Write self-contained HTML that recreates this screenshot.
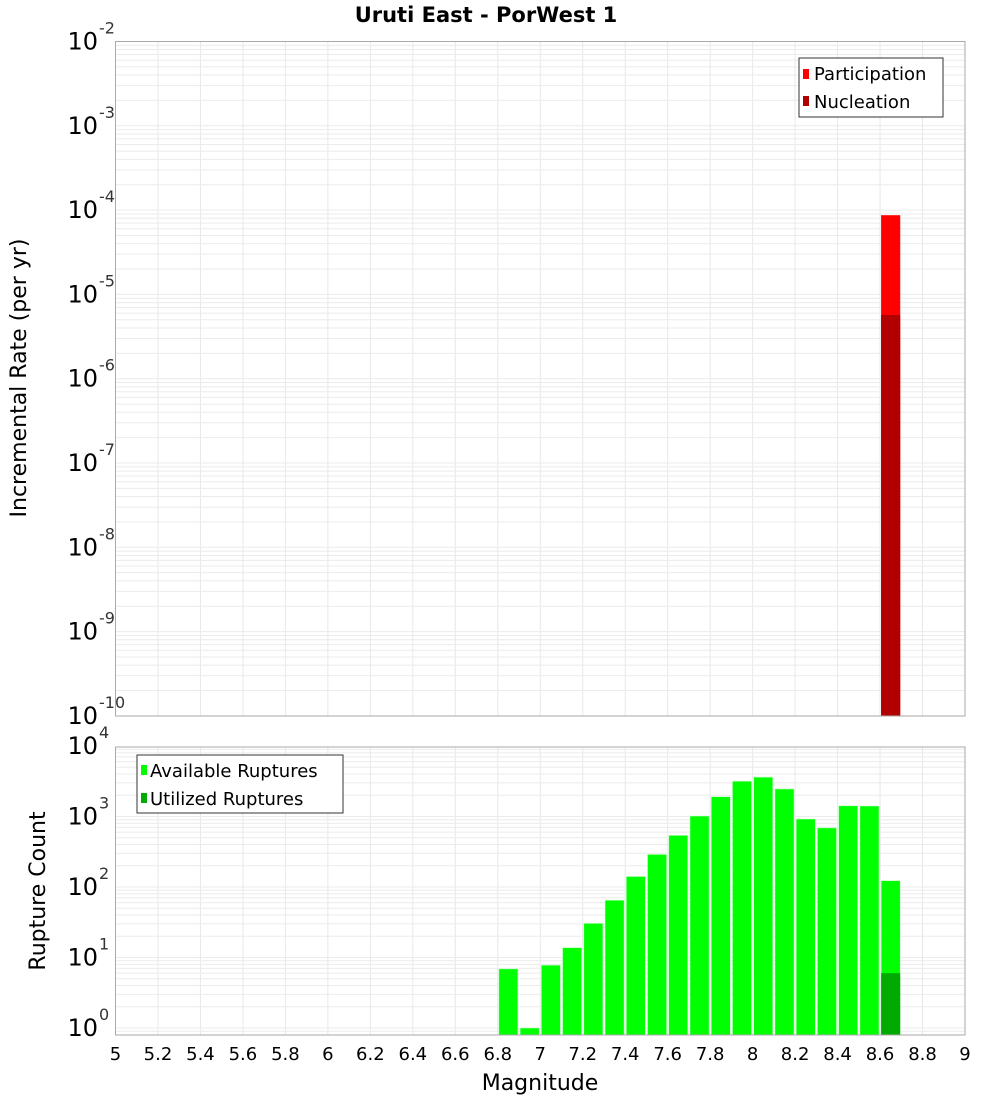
<!DOCTYPE html>
<html><head><meta charset="utf-8">
<style>
body{margin:0;background:#fff;}
svg{display:block;font-family:"DejaVu Sans","Liberation Sans",sans-serif;}
</style></head>
<body>
<svg id="chart" width="1000" height="1100" viewBox="0 0 1000 1100" xmlns="http://www.w3.org/2000/svg">
<rect width="1000" height="1100" fill="#fff"/>
<text x="486" y="22" text-anchor="middle" font-size="21" font-weight="bold">Uruti East - PorWest 1</text>
<g id="topPanel"></g>
<g id="botPanel"></g>
</svg>
<script>
// Data
const partMags = [8.65];
const partRates = [8.7e-5];
const nuclMags = [8.65];
const nuclRates = [5.7e-6];
const rupMags = [6.85,6.95,7.05,7.15,7.25,7.35,7.45,7.55,7.65,7.75,7.85,7.95,8.05,8.15,8.25,8.35,8.45,8.55,8.65];
const availCounts = [6.9,1,7.8,13.8,30.5,65,141,290,540,1016,1910,3170,3620,2460,922,690,1420,1410,123];
const usedMags = [8.65];
const usedCounts = [6.0];
const xTicks = [5,5.2,5.4,5.6,5.8,6,6.2,6.4,6.6,6.8,7,7.2,7.4,7.6,7.8,8,8.2,8.4,8.6,8.8,9];
const topDecades = [-2,-3,-4,-5,-6,-7,-8,-9,-10];
const botDecades = [4,3,2,1,0];

const NS = "http://www.w3.org/2000/svg";
const X0 = 115.5, X1 = 965;
function xs(m){ return X0 + (m-5)/4*(X1-X0); }
const TOP_Y0 = 41.5, TOP_Y1 = 716;
function ysTop(v){ return TOP_Y0 + (-2 - Math.log10(v))*84.3; }
const BOT_Y0 = 747, BOT_Y1 = 1035;
function ysBot(v){ return 1028 - Math.log10(v)*70.5; }

function mk(tag, attrs, parent){
  const e = document.createElementNS(NS, tag);
  for (const k in attrs) e.setAttribute(k, attrs[k]);
  parent.appendChild(e); return e;
}

function grid(g, y0, y1, decs, ys){
  xTicks.forEach(m=>{
    const l = mk('line',{x1:xs(m),x2:xs(m),y1:y0,y2:y1,stroke:'#e8e8e8','stroke-width':1},g);
    
    
  });
  decs.forEach(d=>{
    for(let k=1;k<10;k++){
      const y = ys(k*Math.pow(10,d));
      if (y < y0-0.5 || y > y1+0.5) continue;
      const l = mk('line',{x1:X0,x2:X1,y1:y,y2:y,stroke:'#ebebeb','stroke-width':1},g);
      
      
    }
  });
}

function yLabels(g, decs, ys){
  decs.forEach(d=>{
    const y = ys(Math.pow(10,d));
    const t = mk('text',{x:98,y:y+8,'text-anchor':'end','font-size':24,fill:'#000'},g);
    t.textContent='10';
    
    
    const e = mk('text',{x:99,y:y-8,'text-anchor':'start','font-size':16,fill:'#333'},g);
    e.textContent = String(d);
    
    
  });
}

// TOP PANEL
const topG = document.getElementById('topPanel');
grid(topG, TOP_Y0, TOP_Y1, [-3,-4,-5,-6,-7,-8,-9,-10], ysTop);
partMags.forEach((m,i)=>{
  const y = ysTop(partRates[i]);
  const r = mk('rect',{x:xs(m-0.045),y:y,width:xs(m+0.045)-xs(m-0.045),height:TOP_Y1-y,fill:'#ff0000'},topG);
  
  
});
nuclMags.forEach((m,i)=>{
  const y = ysTop(nuclRates[i]);
  const r = mk('rect',{x:xs(m-0.045),y:y,width:xs(m+0.045)-xs(m-0.045),height:TOP_Y1-y,fill:'#b20000'},topG);
  
  
});
const tf = mk('rect',{x:X0,y:TOP_Y0,width:X1-X0,height:TOP_Y1-TOP_Y0,fill:'none',stroke:'#aaa','stroke-width':1},topG);


yLabels(topG, topDecades, ysTop);
const yt1 = mk('text',{x:26,y:378,'text-anchor':'middle','font-size':22,transform:'rotate(-90 26 378)'},topG);
yt1.textContent='Incremental Rate (per yr)';


const lg1 = mk('g',{},topG);


mk('rect',{x:799,y:58,width:144,height:59,fill:'#fff',stroke:'#333','stroke-width':1},lg1);
mk('rect',{x:803,y:69,width:6,height:10,fill:'#ff0000'},lg1);
const lt1=mk('text',{x:814,y:80,'font-size':18},lg1); lt1.textContent='Participation';


mk('rect',{x:803,y:96,width:6,height:10,fill:'#b20000'},lg1);
const lt2=mk('text',{x:814,y:108,'font-size':18},lg1); lt2.textContent='Nucleation';



// BOTTOM PANEL
const botG = document.getElementById('botPanel');
grid(botG, BOT_Y0, BOT_Y1, [-1,0,1,2,3], ysBot);
rupMags.forEach((m,i)=>{
  const y = ysBot(availCounts[i]);
  const r = mk('rect',{x:xs(m-0.045),y:y,width:xs(m+0.045)-xs(m-0.045),height:BOT_Y1-y,fill:'#00ff00',stroke:'#c8ffc8','stroke-width':0.6},botG);
  
  
});
usedMags.forEach((m,i)=>{
  const y = ysBot(usedCounts[i]);
  const r = mk('rect',{x:xs(m-0.045),y:y,width:xs(m+0.045)-xs(m-0.045),height:BOT_Y1-y,fill:'#00aa00'},botG);
  
  
});
const bf = mk('rect',{x:X0,y:BOT_Y0,width:X1-X0,height:BOT_Y1-BOT_Y0,fill:'none',stroke:'#aaa','stroke-width':1},botG);


yLabels(botG, botDecades, ysBot);
const yt2 = mk('text',{x:45,y:891,'text-anchor':'middle','font-size':22,transform:'rotate(-90 45 891)'},botG);
yt2.textContent='Rupture Count';


xTicks.forEach(m=>{
  const t = mk('text',{x:xs(m),y:1060,'text-anchor':'middle','font-size':18},botG);
  t.textContent = String(m);
  
  
});
const xt = mk('text',{x:540,y:1090,'text-anchor':'middle','font-size':22},botG);
xt.textContent='Magnitude';


const lg2 = mk('g',{},botG);


mk('rect',{x:137,y:755,width:206,height:58,fill:'#fff',stroke:'#333','stroke-width':1},lg2);
mk('rect',{x:141,y:765,width:6,height:10,fill:'#00ff00'},lg2);
const lt3=mk('text',{x:150,y:777,'font-size':18},lg2); lt3.textContent='Available Ruptures';


mk('rect',{x:141,y:793,width:6,height:10,fill:'#00aa00'},lg2);
const lt4=mk('text',{x:150,y:805,'font-size':18},lg2); lt4.textContent='Utilized Ruptures';


</script>
</body></html>
